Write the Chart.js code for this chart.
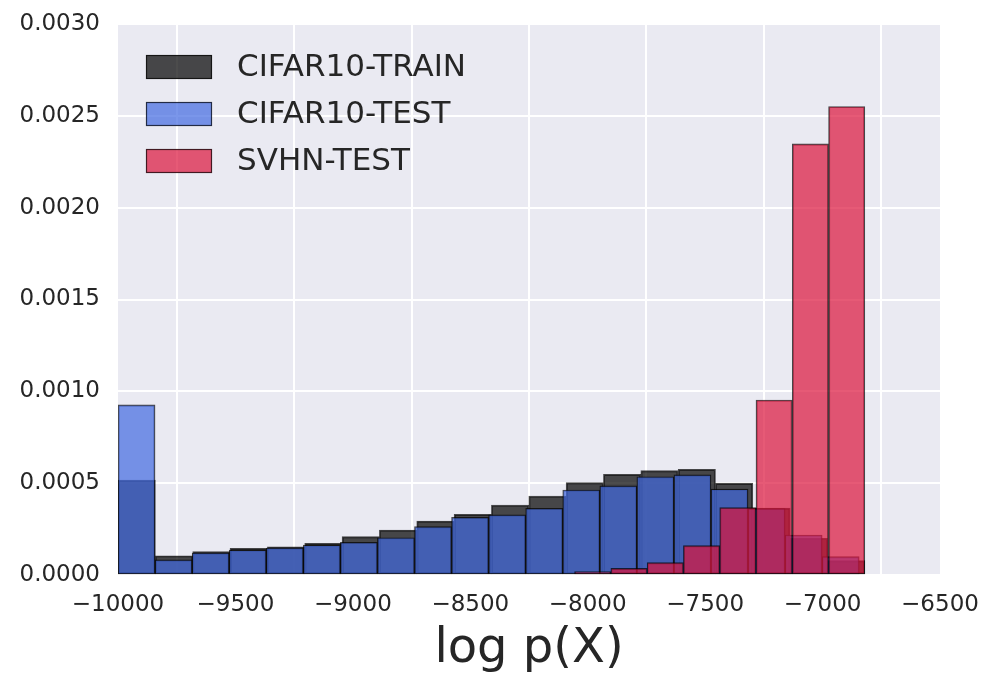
<!DOCTYPE html>
<html>
<head>
<meta charset="utf-8">
<script src="https://cdn.jsdelivr.net/npm/chart.js@4"></script>
<style>
  html, body { margin: 0; padding: 0; background: #ffffff; }
  canvas { display: block; }
</style>
</head>
<body>
<canvas id="histChart" width="989" height="678"></canvas>
<script>
// histogram bins (log p(X)), one set per dataset
const trainBinStart = -10000, trainBinWidth = 159.0;
const testBinStart = -10000, testBinWidth = 157.8;
const svhnBinStart = -9910, svhnBinWidth = 154.5;

// densities
const trainDensity = [0.000517, 0.000105, 0.000127, 0.000145, 0.000154, 0.000172, 0.000209, 0.000245, 0.000294, 0.000331,
                      0.000381, 0.000430, 0.000503, 0.000548, 0.000568, 0.000575, 0.000500, 0.000365, 0.000200, 0.000078];
const testDensity = [0.000926, 0.000082, 0.000120, 0.000136, 0.000147, 0.000163, 0.000178, 0.000203, 0.000263, 0.000314,
                     0.000327, 0.000363, 0.000463, 0.000485, 0.000535, 0.000545, 0.000468, 0.000362, 0.000218, 0.000100];
const svhnDensity = [0, 0, 0, 0, 0, 0, 0, 0, 0, 0,
                     0, 0, 0.000018, 0.000036, 0.000067, 0.000160, 0.000367, 0.000953, 0.002347, 0.002551];

const seriesLabels = ['CIFAR10-TRAIN', 'CIFAR10-TEST', 'SVHN-TEST'];
const yTicks = [0, 0.0005, 0.001, 0.0015, 0.002, 0.0025, 0.003];
const xTicks = [-10000, -9500, -9000, -8500, -8000, -7500, -7000, -6500];

function toPoints(start, width, vals) {
  return vals.map((v, i) => ({ x: start + width * (i + 0.5), y: v === 0 ? null : v }));
}

// bar width in pixels = one bin on the x scale
function binPx(width) {
  return function (c) {
    const x = c.chart.scales.x;
    if (!x) return undefined;
    return Math.abs(x.getPixelForValue(trainBinStart + width) - x.getPixelForValue(trainBinStart));
  };
}

const plotBg = {
  id: 'plotBg',
  beforeDraw(chart) {
    const { ctx, chartArea: a } = chart;
    ctx.save();
    ctx.fillStyle = '#ffffff';
    ctx.fillRect(0, 0, chart.width, chart.height);
    ctx.fillStyle = '#eaeaf2';
    ctx.fillRect(a.left, a.top, a.right - a.left, a.bottom - a.top);
    ctx.restore();
  }
};

// legend drawn inside the plot, top left
const innerLegend = {
  id: 'innerLegend',
  afterDraw(chart) {
    const { ctx, chartArea: a } = chart;
    const ds = chart.data.datasets;
    ctx.save();
    ctx.font = '31px "DejaVu Sans"';
    ctx.textBaseline = 'middle';
    ds.forEach((d, i) => {
      const bx = a.left + 28, by = a.top + 31 + i * 47;
      ctx.fillStyle = d.backgroundColor;
      ctx.fillRect(bx, by, 66, 24);
      ctx.strokeStyle = d.borderColor;
      ctx.lineWidth = 1.2;
      ctx.strokeRect(bx + 0.5, by + 0.5, 65, 23);
      ctx.fillStyle = '#262626';
      ctx.fillText(d.label, bx + 91, by + 13);
    });
    ctx.restore();
  }
};

const ctx = document.getElementById('histChart').getContext('2d');

new Chart(ctx, {
  type: 'bar',
  data: {
    datasets: [
      {
        label: seriesLabels[0],
        data: toPoints(trainBinStart, trainBinWidth, trainDensity),
        backgroundColor: 'rgba(0,0,0,0.7)',
        borderColor: 'rgba(0,0,0,0.7)',
        barThickness: binPx(trainBinWidth),
        order: 3
      },
      {
        label: seriesLabels[1],
        data: toPoints(testBinStart, testBinWidth, testDensity),
        backgroundColor: 'rgba(65,105,225,0.7)',
        borderColor: 'rgba(0,0,0,0.7)',
        barThickness: binPx(testBinWidth),
        order: 2
      },
      {
        label: seriesLabels[2],
        data: toPoints(svhnBinStart, svhnBinWidth, svhnDensity),
        backgroundColor: 'rgba(220,20,60,0.7)',
        borderColor: 'rgba(0,0,0,0.7)',
        barThickness: binPx(svhnBinWidth),
        order: 1
      }
    ]
  },
  options: {
    responsive: false,
    animation: false,
    devicePixelRatio: 1,
    layout: { padding: 0 },
    datasets: {
      bar: {
        grouped: false,
        borderWidth: 1.2,
        borderSkipped: false
      }
    },
    scales: {
      x: {
        type: 'linear',
        min: -10000,
        max: -6500,
        offset: false,
        afterBuildTicks: s => { s.ticks = xTicks.map(v => ({ value: v })); },
        afterFit: s => { s.height = 103; s.paddingRight = 49; },
        grid: { color: '#ffffff', lineWidth: 2, drawTicks: false },
        border: { display: false },
        ticks: {
          maxRotation: 0,
          autoSkip: false,
          padding: 16,
          color: '#262626',
          font: { family: 'DejaVu Sans', size: 23 },
          callback: v => (v < 0 ? '\u2212' + Math.abs(v) : String(v))
        },
        title: {
          display: true,
          text: 'log p(X)',
          color: '#262626',
          font: { family: 'DejaVu Sans', size: 48 },
          padding: { top: 2, bottom: 0 }
        }
      },
      y: {
        min: 0,
        max: 0.003,
        afterBuildTicks: s => { s.ticks = yTicks.map(v => ({ value: v })); },
        afterFit: s => { s.width = 118; s.paddingTop = 24; },
        grid: { color: '#ffffff', lineWidth: 2, drawTicks: false },
        border: { display: false },
        ticks: {
          padding: 18,
          color: '#262626',
          font: { family: 'DejaVu Sans', size: 23 },
          callback: v => v.toFixed(4)
        }
      }
    },
    plugins: {
      legend: { display: false },
      tooltip: { enabled: false }
    }
  },
  plugins: [plotBg, innerLegend]
});
</script>
</body>
</html>
